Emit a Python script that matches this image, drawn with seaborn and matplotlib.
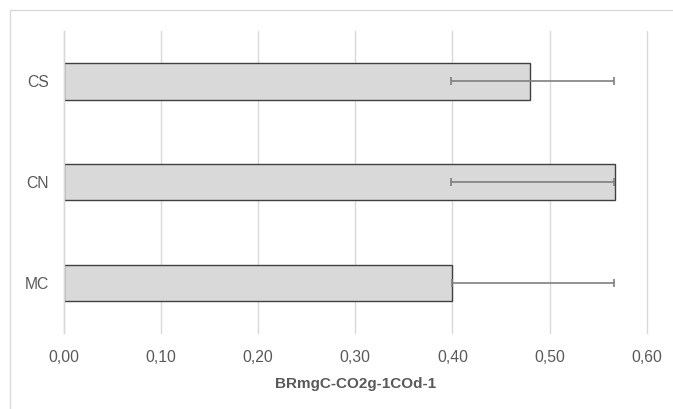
import matplotlib
matplotlib.use("Agg")
import matplotlib.pyplot as plt
import seaborn as sns
import numpy as np
import pandas as pd
from matplotlib.patches import Rectangle
from matplotlib.ticker import FuncFormatter

# data
categories = ["CS", "CN", "MC"]
values = [0.480, 0.567, 0.399]
err_low = [0.398, 0.398, 0.399]   # left end of each error bar
err_high = [0.566, 0.566, 0.566]  # right end of each error bar
xticks = [0.0, 0.1, 0.2, 0.3, 0.4, 0.5, 0.6]
xlabel = "BRmgC-CO2g-1COd-1"

df = pd.DataFrame({"cat": categories, "val": values})

sns.set_theme(style="white")
plt.rcParams["font.family"] = ["Liberation Sans", "DejaVu Sans"]

fig = plt.figure(figsize=(6.73, 4.09), dpi=100)
ax = fig.add_axes([0.095, 0.186, 0.866, 0.738])

sns.barplot(data=df, x="val", y="cat", order=categories, orient="h",
            color="#d9d9d9", width=0.36, edgecolor="#404040", linewidth=1.0,
            saturation=1, errorbar=None, ax=ax, zorder=2)

# error bars: ranges don't straddle the bar end (Excel custom range),
# so draw them centred on the range midpoint
lo = np.array(err_low)
hi = np.array(err_high)
ax.errorbar((lo + hi) / 2, np.arange(len(categories)), xerr=(hi - lo) / 2,
            fmt="none", ecolor="#7f7f7f", elinewidth=1.2, capsize=3,
            capthick=1.2, zorder=3)

ax.set_xlim(0, 0.6)
ax.set_ylim(len(categories) - 0.5, -0.5)
ax.set_xticks(xticks)
ax.xaxis.set_major_formatter(FuncFormatter(lambda v, p: f"{v:.2f}".replace(".", ",")))
ax.grid(axis="x", color="#d9d9d9", linewidth=1.0, zorder=0)
ax.set_axisbelow(True)
for s in ["top", "right", "bottom"]:
    ax.spines[s].set_visible(False)
ax.spines["left"].set_color("#d9d9d9")
ax.spines["left"].set_linewidth(1.0)
for gl in ax.get_xgridlines():
    gl.set_clip_on(False)
ax.tick_params(axis="both", length=0, labelsize=11.3, labelcolor="#595959")
ax.tick_params(axis="x", pad=12)
ax.tick_params(axis="y", pad=11)
ax.set_ylabel("")
ax.set_xlabel(xlabel, fontsize=11, fontweight="bold", color="#595959", labelpad=9)

# outer chart border (cut off on the right and bottom in the original)
fig.patches.append(Rectangle((10 / 673, -0.05), 1.0, 1.05 - 10 / 409,
                             transform=fig.transFigure, fill=False,
                             edgecolor="#d9d9d9", linewidth=1.0))

fig.savefig("out.png", dpi=100)
